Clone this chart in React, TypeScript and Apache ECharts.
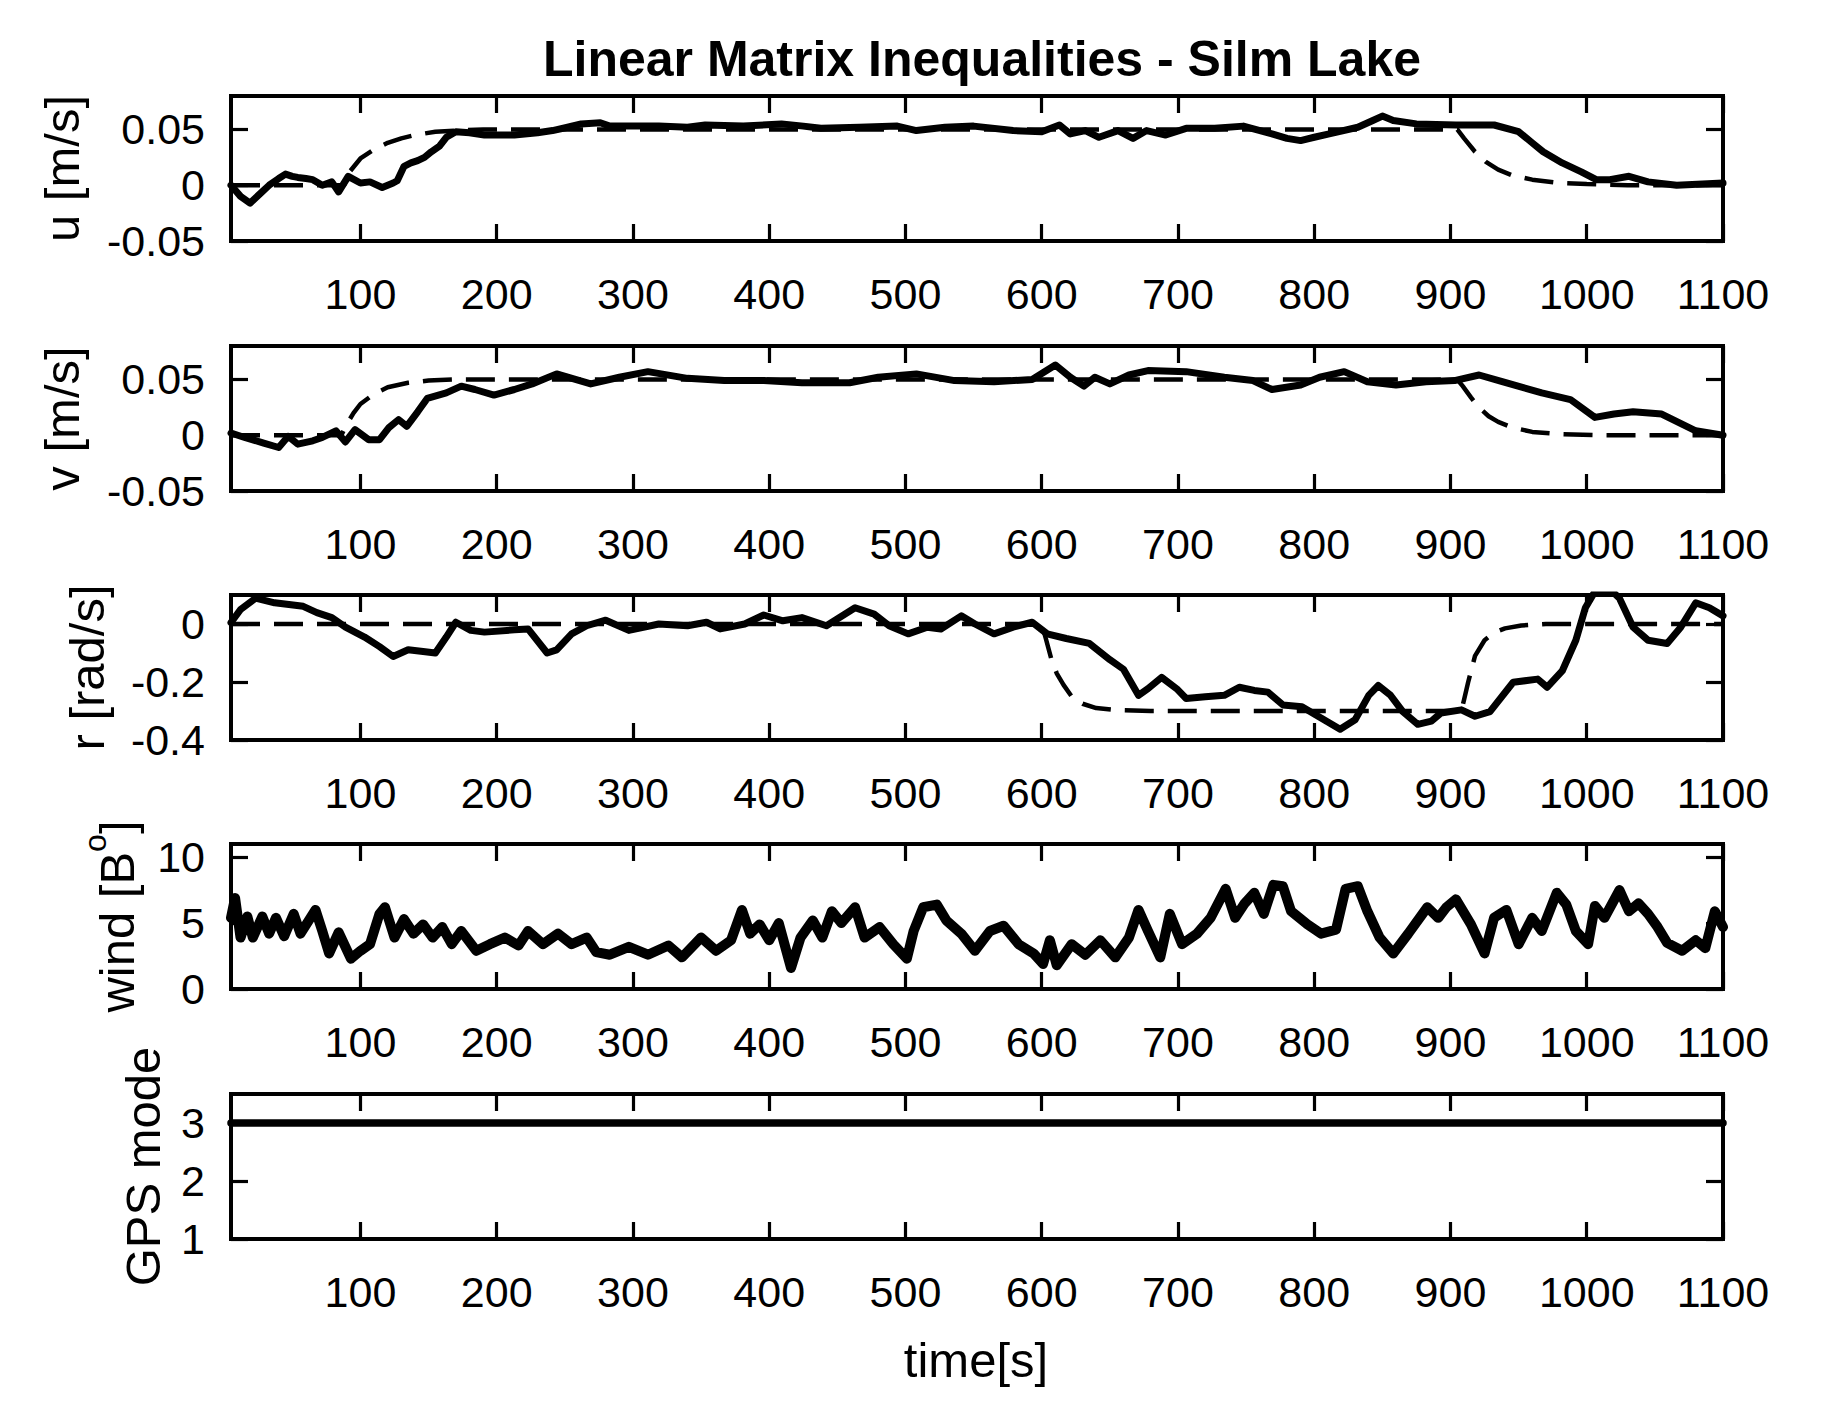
import React, { useEffect, useRef } from "react";
import * as echarts from "echarts";

const FONT = '"Liberation Sans", Arial, Helvetica, sans-serif';

// ---------- data ----------
const xTicks = [100, 200, 300, 400, 500, 600, 700, 800, 900, 1000, 1100];

const uTime = [5, 12, 19, 26, 33, 40, 45, 50, 54, 60, 65, 72, 79, 84, 91, 100, 107, 116, 124, 127, 132, 137, 142, 147, 152, 158, 163, 170, 180, 191, 213, 230, 241, 252, 262, 276, 283, 300, 319, 340, 353, 381, 409, 425, 438, 466, 494, 508, 529, 550, 579, 600, 613, 621, 632, 642, 656, 667, 677, 691, 706, 727, 748, 769, 780, 790, 800, 811, 832, 843, 850, 858, 875, 904, 932, 950, 960, 968, 982, 996, 1007, 1017, 1031, 1045, 1066, 1085, 1100];
const uMeas = [0.0, -0.01, -0.016, -0.008, 0.0, 0.006, 0.01, 0.008, 0.007, 0.006, 0.005, 0.0, 0.003, -0.006, 0.008, 0.002, 0.003, -0.002, 0.002, 0.004, 0.017, 0.02, 0.022, 0.025, 0.03, 0.035, 0.043, 0.048, 0.047, 0.045, 0.045, 0.047, 0.049, 0.052, 0.055, 0.056, 0.053, 0.053, 0.053, 0.052, 0.054, 0.053, 0.055, 0.053, 0.051, 0.052, 0.053, 0.049, 0.052, 0.053, 0.049, 0.048, 0.054, 0.046, 0.049, 0.043, 0.049, 0.042, 0.049, 0.045, 0.051, 0.051, 0.053, 0.046, 0.042, 0.04, 0.043, 0.046, 0.052, 0.058, 0.062, 0.058, 0.055, 0.054, 0.054, 0.048, 0.038, 0.03, 0.02, 0.012, 0.005, 0.005, 0.008, 0.003, 0.0, 0.001, 0.002];
const uRefTime = [5, 88, 92, 100, 110, 120, 130, 140, 155, 170, 190, 905, 910, 918, 926, 935, 945, 960, 980, 1000, 1030, 1100];
const uRef = [0, 0, 0.012, 0.024, 0.032, 0.038, 0.042, 0.045, 0.048, 0.049, 0.05, 0.05, 0.042, 0.03, 0.021, 0.014, 0.009, 0.005, 0.002, 0.001, 0, 0];

const vTime = [5, 15, 29, 40, 47, 54, 65, 72, 82, 89, 96, 106, 114, 121, 128, 134, 142, 149, 163, 174, 184, 198, 213, 226, 244, 269, 290, 311, 340, 367, 396, 424, 459, 480, 508, 536, 565, 593, 610, 621, 631, 639, 650, 664, 678, 706, 734, 755, 769, 790, 804, 822, 839, 860, 882, 903, 921, 938, 967, 988, 1006, 1020, 1034, 1055, 1080, 1100];
const vMeas = [0.002, -0.002, -0.007, -0.011, -0.001, -0.008, -0.005, -0.002, 0.004, -0.006, 0.005, -0.004, -0.004, 0.007, 0.014, 0.008, 0.021, 0.033, 0.038, 0.044, 0.041, 0.036, 0.041, 0.046, 0.055, 0.046, 0.052, 0.057, 0.051, 0.049, 0.049, 0.047, 0.047, 0.052, 0.055, 0.049, 0.048, 0.05, 0.063, 0.052, 0.044, 0.052, 0.046, 0.054, 0.058, 0.057, 0.052, 0.049, 0.041, 0.045, 0.052, 0.057, 0.048, 0.045, 0.048, 0.049, 0.054, 0.048, 0.038, 0.032, 0.016, 0.019, 0.021, 0.019, 0.004, 0.0];
const vRefTime = [5, 86, 90, 95, 100, 110, 120, 135, 150, 170, 905, 909, 915, 920, 928, 935, 945, 960, 980, 1010, 1100];
const vRef = [0, 0, 0.01, 0.02, 0.028, 0.037, 0.043, 0.047, 0.049, 0.05, 0.05, 0.044, 0.034, 0.026, 0.017, 0.012, 0.007, 0.003, 0.001, 0, 0];

const rTime = [5, 12, 23, 37, 58, 68, 79, 89, 103, 114, 124, 135, 146, 155, 163, 170, 181, 191, 213, 223, 237, 244, 255, 266, 280, 297, 319, 340, 354, 364, 382, 396, 410, 424, 442, 463, 477, 488, 502, 516, 526, 541, 551, 565, 579, 593, 604, 618, 635, 650, 660, 671, 678, 688, 699, 706, 720, 734, 745, 756, 766, 777, 791, 805, 819, 830, 840, 847, 856, 865, 876, 886, 893, 908, 918, 929, 946, 964, 971, 982, 992, 999, 1006, 1017, 1024, 1034, 1045, 1059, 1069, 1080, 1090, 1100];
const rMeas = [0.005, 0.05, 0.089, 0.073, 0.061, 0.039, 0.022, -0.011, -0.045, -0.078, -0.112, -0.089, -0.095, -0.1, -0.045, 0.006, -0.022, -0.028, -0.02, -0.017, -0.1, -0.089, -0.034, -0.006, 0.013, -0.022, 0.0, -0.006, 0.006, -0.017, 0.0, 0.031, 0.011, 0.022, -0.006, 0.056, 0.034, -0.006, -0.034, -0.011, -0.017, 0.028, 0.0, -0.034, -0.011, 0.006, -0.034, -0.05, -0.067, -0.123, -0.156, -0.246, -0.223, -0.184, -0.223, -0.257, -0.251, -0.246, -0.218, -0.229, -0.235, -0.279, -0.285, -0.324, -0.363, -0.33, -0.246, -0.212, -0.246, -0.302, -0.346, -0.335, -0.307, -0.296, -0.318, -0.302, -0.201, -0.19, -0.218, -0.162, -0.056, 0.056, 0.112, 0.12, 0.089, -0.011, -0.056, -0.067, -0.011, 0.073, 0.056, 0.028];
const rRefTime = [5, 600, 603, 607, 611, 616, 622, 630, 640, 655, 680, 908, 910, 913, 918, 925, 932, 940, 952, 970, 1100];
const rRef = [0, 0, -0.05, -0.12, -0.17, -0.21, -0.25, -0.275, -0.29, -0.297, -0.3, -0.3, -0.26, -0.2, -0.11, -0.056, -0.03, -0.015, -0.005, 0, 0];

const windTime = [5, 8, 12, 17, 21, 28, 33, 38, 44, 51, 56, 67, 72, 77, 84, 93, 100, 107, 114, 118, 125, 132, 139, 146, 153, 160, 167, 174, 185, 195, 206, 216, 223, 234, 245, 255, 266, 273, 283, 297, 311, 326, 336, 350, 361, 372, 380, 386, 393, 400, 407, 416, 423, 432, 439, 446, 453, 463, 470, 481, 491, 501, 506, 513, 523, 530, 541, 551, 562, 572, 583, 594, 601, 606, 611, 622, 632, 643, 654, 664, 671, 678, 687, 694, 703, 714, 724, 735, 742, 749, 756, 763, 770, 777, 783, 795, 805, 816, 823, 832, 839, 848, 858, 869, 883, 891, 897, 904, 915, 925, 932, 941, 950, 960, 967, 978, 985, 992, 1001, 1006, 1013, 1024, 1031, 1038, 1045, 1052, 1059, 1070, 1080, 1087, 1094, 1100];
const windVal = [5.4, 6.9, 3.9, 5.5, 3.9, 5.5, 4.2, 5.4, 4.0, 5.7, 4.2, 6.0, 4.4, 2.7, 4.3, 2.3, 2.9, 3.4, 5.7, 6.2, 3.9, 5.3, 4.2, 4.9, 3.9, 4.7, 3.4, 4.4, 2.9, 3.4, 3.9, 3.3, 4.4, 3.4, 4.2, 3.4, 3.9, 2.8, 2.6, 3.2, 2.6, 3.3, 2.4, 3.9, 2.9, 3.7, 6.0, 4.2, 4.9, 3.7, 5.0, 1.6, 3.9, 5.2, 3.9, 5.9, 5.0, 6.2, 3.9, 4.7, 3.4, 2.3, 4.4, 6.2, 6.4, 5.2, 4.2, 2.9, 4.4, 4.8, 3.4, 2.7, 1.9, 3.7, 1.8, 3.4, 2.6, 3.7, 2.4, 3.9, 6.0, 4.4, 2.4, 5.7, 3.4, 4.2, 5.4, 7.6, 5.4, 6.5, 7.3, 5.7, 7.9, 7.8, 5.9, 4.9, 4.2, 4.5, 7.6, 7.8, 5.9, 3.9, 2.7, 4.2, 6.2, 5.4, 6.2, 6.8, 4.9, 2.7, 5.4, 6.0, 3.4, 5.4, 4.4, 7.3, 6.4, 4.4, 3.4, 6.3, 5.4, 7.5, 5.9, 6.5, 5.7, 4.7, 3.5, 2.9, 3.7, 3.1, 5.9, 4.7];

const gpsTime = [5, 1100];
const gpsMode = [3, 3];

// ---------- layout ----------
const GRID_LEFT = 231;
const GRID_WIDTH = 1492;
const GRID_HEIGHT = 145;
const panels = [
  { top: 96, min: -0.05, max: 0.08, ticks: [-0.05, 0, 0.05], label: "u [m/s]", lx: 62 },
  { top: 346, min: -0.05, max: 0.08, ticks: [-0.05, 0, 0.05], label: "v [m/s]", lx: 62 },
  { top: 595, min: -0.4, max: 0.1, ticks: [-0.4, -0.2, 0], label: "r [rad/s]", lx: 87 },
  { top: 844, min: 0, max: 11, ticks: [0, 5, 10], label: "wind", lx: 117 },
  { top: 1094, min: 1, max: 3.5, ticks: [1, 2, 3], label: "GPS mode", lx: 143 },
];

const pairs = (t: number[], y: number[]) => t.map((x, i) => [x, y[i]]);

function buildOption() {
  const grid: any[] = [];
  const xAxis: any[] = [];
  const yAxis: any[] = [];
  panels.forEach((p, g) => {
    grid.push({
      left: GRID_LEFT,
      top: p.top,
      width: GRID_WIDTH,
      height: GRID_HEIGHT,
      show: true,
      borderColor: "#000",
      borderWidth: 4,
      backgroundColor: "transparent",
      outerBoundsMode: "none",
      containLabel: false,
    });
    ["bottom", "top"].forEach((pos, k) => {
      xAxis.push({
        type: "value",
        gridIndex: g,
        position: pos,
        min: 5,
        max: 1100,
        axisLine: { show: false, onZero: false },
        axisTick: {
          show: true,
          inside: true,
          length: 17,
          customValues: xTicks,
          lineStyle: { color: "#000", width: 3.2 },
        },
        axisLabel: {
          show: k === 0,
          customValues: xTicks,
          fontSize: 43,
          fontFamily: FONT,
          color: "#000",
          margin: 31,
          formatter: (v: number) => String(v),
        },
        splitLine: { show: false },
      });
    });
    ["left", "right"].forEach((pos, k) => {
      yAxis.push({
        type: "value",
        gridIndex: g,
        position: pos,
        min: p.min,
        max: p.max,
        axisLine: { show: false, onZero: false },
        axisTick: {
          show: true,
          inside: true,
          length: 17,
          customValues: p.ticks,
          lineStyle: { color: "#000", width: 3.2 },
        },
        axisLabel: {
          show: k === 0,
          customValues: p.ticks,
          fontSize: 43,
          fontFamily: FONT,
          color: "#000",
          margin: 26,
          formatter: (v: number) => String(Number(v.toFixed(3))),
        },
        splitLine: { show: false },
      });
    });
  });

  const solid = (g: number, data: number[][], width = 7) => ({
    type: "line",
    xAxisIndex: 2 * g,
    yAxisIndex: 2 * g,
    data,
    symbol: "none",
    showSymbol: false,
    clip: true,
    lineStyle: { color: "#000", width, type: "solid", cap: "round", join: "round" },
    z: 3,
  });
  const dashed = (g: number, data: number[][]) => ({
    type: "line",
    xAxisIndex: 2 * g,
    yAxisIndex: 2 * g,
    data,
    symbol: "none",
    showSymbol: false,
    clip: true,
    lineStyle: { color: "#000", width: 4.5, type: [29, 14], cap: "butt" },
    z: 4,
  });

  const series = [
    solid(0, pairs(uTime, uMeas)),
    dashed(0, pairs(uRefTime, uRef)),
    solid(1, pairs(vTime, vMeas)),
    dashed(1, pairs(vRefTime, vRef)),
    solid(2, pairs(rTime, rMeas)),
    dashed(2, pairs(rRefTime, rRef)),
    solid(3, pairs(windTime, windVal), 10),
    solid(4, pairs(gpsTime, gpsMode), 7.5),
  ];

  const graphic: any[] = [
    {
      type: "text",
      x: 982,
      y: 59,
      style: {
        text: "Linear Matrix Inequalities - Silm Lake",
        fontSize: 50,
        fontWeight: "bold",
        fontFamily: FONT,
        fill: "#000",
        align: "center",
        verticalAlign: "middle",
      },
    },
    {
      type: "text",
      x: 976,
      y: 1360,
      style: {
        text: "time[s]",
        fontSize: 49,
        fontFamily: FONT,
        fill: "#000",
        align: "center",
        verticalAlign: "middle",
      },
    },
  ];
  panels.forEach((p) => {
    const cy = p.top + GRID_HEIGHT / 2;
    if (p.label === "wind") {
      graphic.push({
        type: "text",
        x: p.lx,
        y: cy,
        rotation: Math.PI / 2,
        style: {
          text: "{a|wind [B}{s|o}{a|]}",
          fill: "#000",
          align: "center",
          verticalAlign: "middle",
          rich: {
            a: { fontSize: 49, fontFamily: FONT, fill: "#000", verticalAlign: "middle" },
            s: {
              fontSize: 32,
              fontFamily: FONT,
              fill: "#000",
              verticalAlign: "middle",
              padding: [0, 0, 44, 0],
            },
          },
        },
      });
    } else {
      graphic.push({
        type: "text",
        x: p.lx,
        y: cy,
        rotation: Math.PI / 2,
        style: {
          text: p.label,
          fontSize: 49,
          fontFamily: FONT,
          fill: "#000",
          align: "center",
          verticalAlign: "middle",
        },
      });
    }
  });

  return {
    animation: false,
    backgroundColor: "#fff",
    grid,
    xAxis,
    yAxis,
    series,
    graphic,
  };
}

export default function App() {
  const ref = useRef<HTMLDivElement>(null);
  useEffect(() => {
    document.body.style.margin = "0";
    document.body.style.overflow = "hidden";
    if (!ref.current) return;
    const chart = echarts.init(ref.current, undefined, { renderer: "svg" });
    chart.setOption(buildOption() as any);
    return () => chart.dispose();
  }, []);
  return <div ref={ref} style={{ width: 1844, height: 1411, background: "#fff" }} />;
}
